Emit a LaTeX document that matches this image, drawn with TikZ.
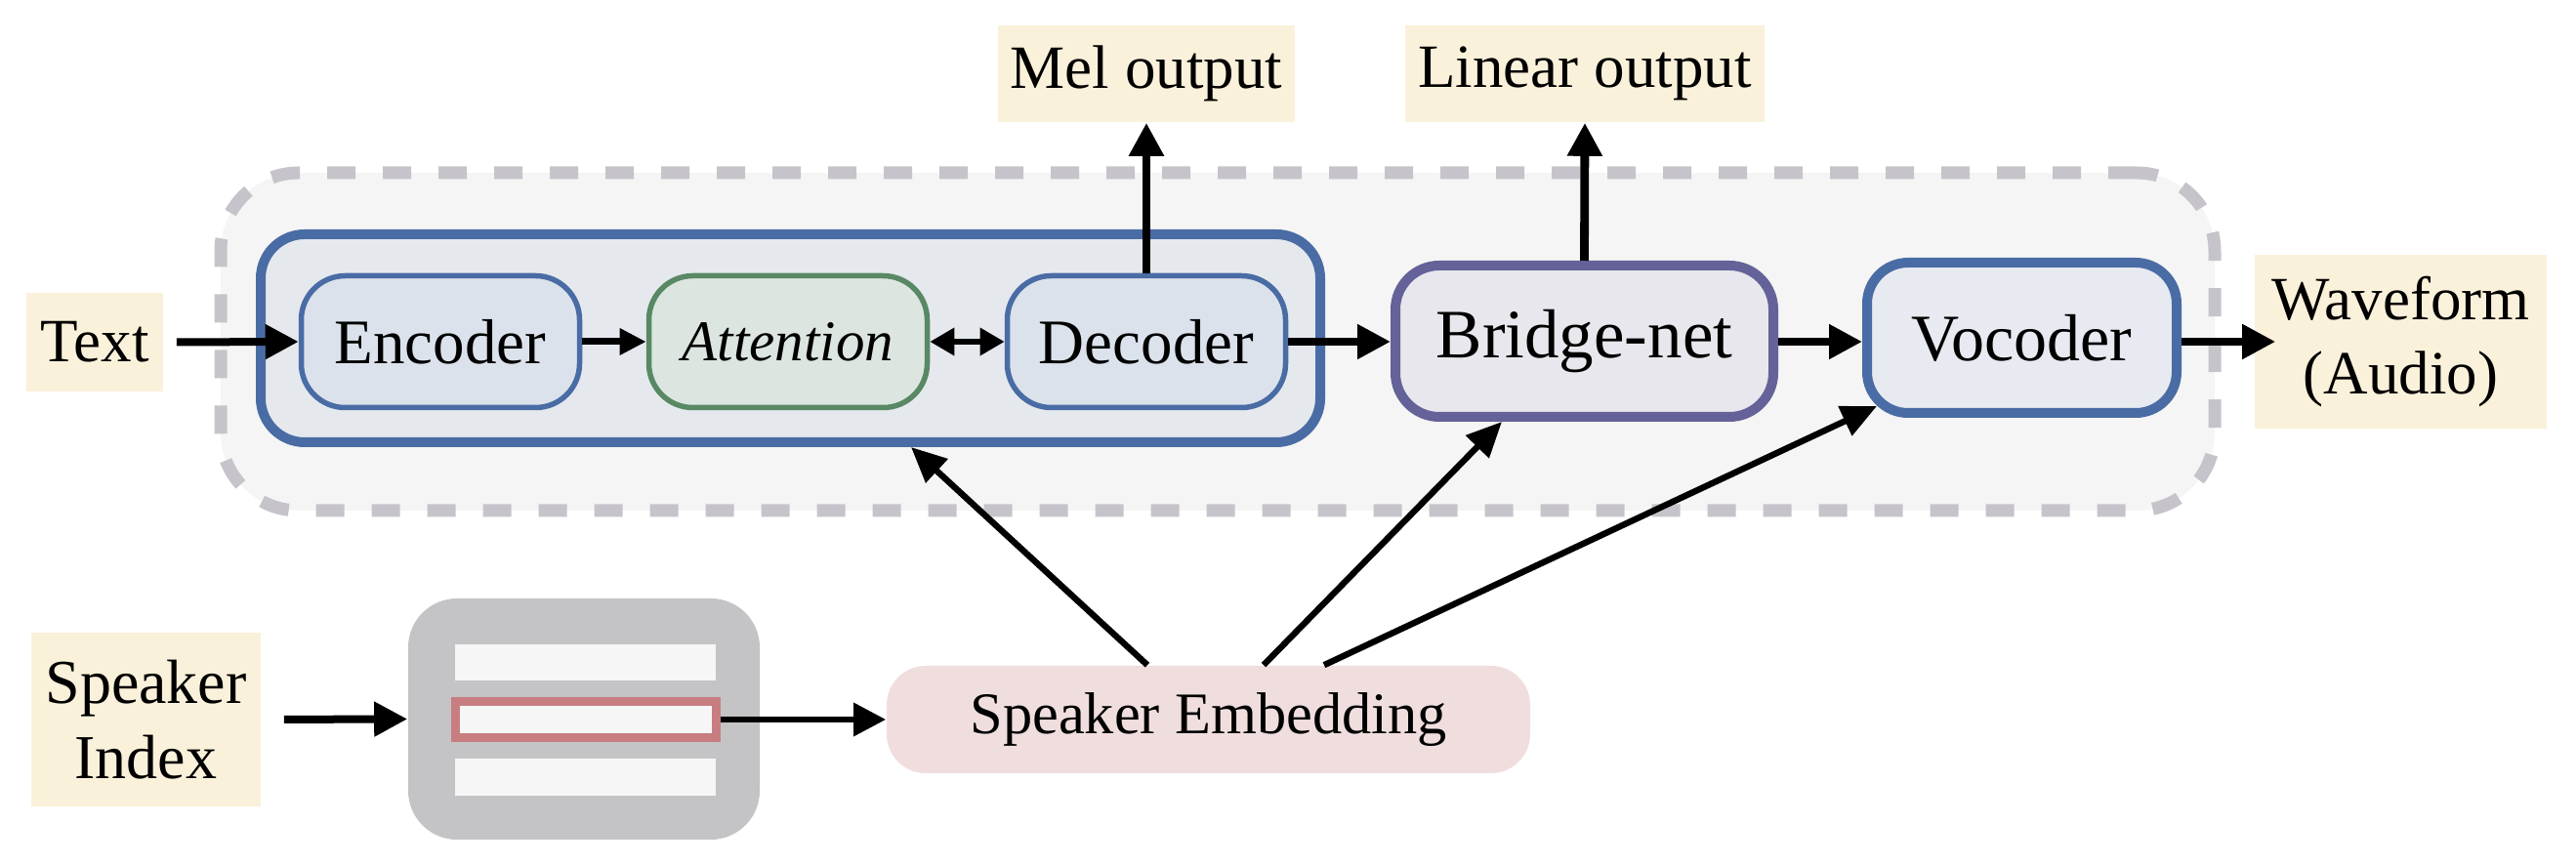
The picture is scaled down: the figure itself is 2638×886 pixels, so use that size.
\documentclass[tikz,border=0pt]{standalone}
\usepackage{fontspec}
\setmainfont{Liberation Serif}
\usetikzlibrary{arrows.meta,calc}
\definecolor{beige}{RGB}{250,241,218}
\definecolor{dashfill}{RGB}{244,245,244}
\definecolor{dashgray}{RGB}{198,196,202}
\definecolor{mblue}{RGB}{74,108,165}
\definecolor{outfill}{RGB}{229,233,238}
\definecolor{infill}{RGB}{219,226,235}
\definecolor{mgreen}{RGB}{88,136,100}
\definecolor{attfill}{RGB}{220,229,224}
\definecolor{mpurple}{RGB}{100,98,152}
\definecolor{brfill}{RGB}{231,231,237}
\definecolor{vocfill}{RGB}{231,234,240}
\definecolor{graybox}{RGB}{196,196,198}
\definecolor{barfill}{RGB}{246,246,246}
\definecolor{barred}{RGB}{200,125,128}
\definecolor{sefill}{RGB}{240,222,222}
\def\PX{*0.25pt}
\begin{document}
\begin{tikzpicture}[x=0.25pt,y=-0.25pt,
  base/.style={rectangle,inner sep=0pt,align=center},
  label box/.style={base,fill=beige,font=\fontsize{15.75}{19}\selectfont},
  modbox/.style={base,draw=mblue,fill=infill,line width=5.5\PX,rounded corners=45\PX,
     minimum width=285\PX,minimum height=135\PX,font=\fontsize{16.25}{19}\selectfont},
  bigarrow/.style={-{Triangle[length=8.5pt,width=8.5pt]},line width=2pt},
  smallarrow/.style={-{Triangle[length=6.8pt,width=6.5pt]},line width=1.75pt},
  diagarrow/.style={-{Triangle[length=9pt,width=8pt]},line width=1.6pt},
]
\useasboundingbox (0,0) rectangle (2638,886);
% dashed background
\node[base,draw=dashgray,fill=dashfill,line width=13\PX,dash pattern=on 29\PX off 28\PX,
  rounded corners=80\PX,minimum width=2042\PX,minimum height=346\PX] (bg) at (1247,350) {};
% encoder-decoder container
\node[base,draw=mblue,fill=outfill,line width=10\PX,rounded corners=45\PX,
  minimum width=1085\PX,minimum height=213\PX] (outer) at (809.5,346.5) {};
\node[modbox] (enc) at (451,350) {Encoder};
\node[modbox,draw=mgreen,fill=attfill,font=\fontsize{14.75}{18}\selectfont\itshape] (att) at (807,350) {Attention};
\node[modbox] (dec) at (1174,350) {Decoder};
\node[base,draw=mpurple,fill=brfill,line width=10\PX,rounded corners=45\PX,
  minimum width=387\PX,minimum height=155\PX,font=\fontsize{17.75}{21}\selectfont] (bridge) at (1622.5,349.5) {Bridge-net};
\node[base,draw=mblue,fill=vocfill,line width=10\PX,rounded corners=42\PX,
  minimum width=317\PX,minimum height=154\PX,font=\fontsize{17}{21}\selectfont] (voc) at (2070.5,346) {Vocoder};
% labels
\node[label box,minimum width=140\PX,minimum height=101\PX] (text) at (97,350.5) {Text};
\node[label box,minimum width=304\PX,minimum height=99\PX] (mel) at (1174,75.5) {Mel output};
\node[label box,minimum width=368\PX,minimum height=99\PX] (lin) at (1623,75.5) {Linear output};
\node[label box,minimum width=299\PX,minimum height=178\PX] (wave) at (2458.5,350) {Waveform\\(Audio)};
\node[label box,minimum width=235\PX,minimum height=178\PX,font=\fontsize{16}{19.25}\selectfont] (spk) at (149.5,737) {Speaker\\Index};
% embedding table
\node[base,fill=graybox,rounded corners=50\PX,minimum width=360\PX,minimum height=247\PX] (table) at (598,736.5) {};
\node[base,fill=barfill,minimum width=267\PX,minimum height=37\PX] (bar1) at (599.5,678.5) {};
\node[base,fill=barfill,draw=barred,line width=9\PX,minimum width=267\PX,minimum height=37\PX] (bar2) at (600,737) {};
\node[base,fill=barfill,minimum width=267\PX,minimum height=38\PX] (bar3) at (599.5,796) {};
\node[base,fill=sefill,rounded corners=40\PX,minimum width=659\PX,minimum height=110\PX,
  font=\fontsize{15.1}{18}\selectfont] (se) at (1237.5,737) {Speaker Embedding};
% connectors
\draw[bigarrow,shorten <=13\PX] (text.east) -- (enc.west);
\draw[smallarrow] (enc.east) -- (att.west);
\draw[{Triangle[length=6.3pt,width=6.8pt]}-{Triangle[length=6.3pt,width=6.8pt]},line width=1.6pt] (att.east) -- (dec.west);
\draw[bigarrow] (dec.east) -- (dec.east -| bridge.west);
\draw[bigarrow] (bridge.east |- dec.east) -- (dec.east -| voc.west);
\draw[bigarrow,shorten >=-22\PX] (voc.east |- dec.east) -- (dec.east -| wave.west);
\draw[bigarrow,line width=2.2pt] (dec.north) -- (mel.south);
\draw[bigarrow,line width=2.2pt] (bridge.north) -- (lin.south);
\draw[bigarrow,shorten <=23\PX] (spk.east) -- (table.west);
\draw[-{Triangle[length=8.3pt,width=8.3pt]},line width=1.6pt] (bar2.east) -- (se.west);
\coordinate (se1) at ($(se.north)+(-62.5,0)$);
\coordinate (se2) at ($(se.north)+(56.5,0)$);
\coordinate (se3) at ($(se.north)+(118.5,0)$);
\coordinate (t1) at ($(outer.south)+(123.5,0)$);
\coordinate (t2) at ($(bridge.south)+(-84.5,0)$);
\coordinate (t3) at ($(voc.south west)+(15,-12)$);
\draw[diagarrow] (se1) -- (t1);
\draw[diagarrow] (se2) -- (t2);
\draw[diagarrow] (se3) -- (t3);
\end{tikzpicture}
\end{document}
